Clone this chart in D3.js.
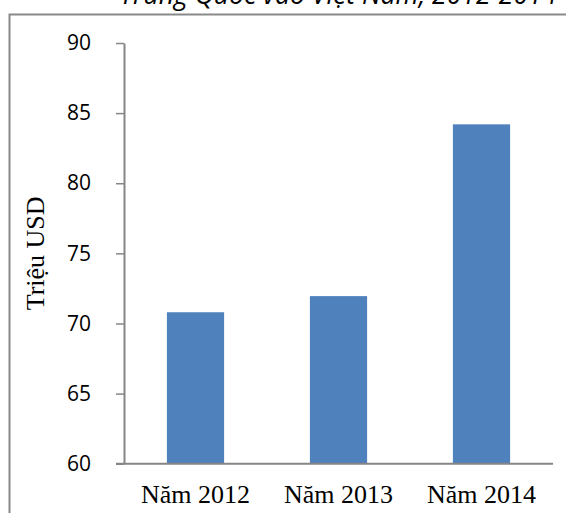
<!DOCTYPE html>
<html>
<head>
<meta charset="utf-8">
<script src="https://cdn.jsdelivr.net/npm/d3@7"></script>
<style>
  html, body { margin: 0; padding: 0; background: #fff; }
  svg { display: block; }
</style>
</head>
<body>
<svg id="chart" width="566" height="513"></svg>
<script>
// Vốn FDI (triệu USD) theo năm
const categories = ["Năm 2012", "Năm 2013", "Năm 2014"];
const values = [70.8, 71.95, 84.2];
const yTicks = [60, 65, 70, 75, 80, 85, 90];
const titleText = "Trung Quốc vào Việt Nam, 2012-2014";
const yAxisTitle = "Triệu USD";

const svg = d3.select("#chart");
const W = 566, H = 513;
const plot = { left: 124, right: 553, top: 43, bottom: 463.7 };

// chart frame
svg.append("rect")
  .attr("x", 9.5).attr("y", 14.5)
  .attr("width", W + 10).attr("height", H + 10)
  .attr("fill", "none")
  .attr("stroke", "#898989")
  .attr("stroke-width", 2);

// title (upper line runs past the top of the page)
svg.append("text")
  .attr("x", (plot.left + plot.right) / 2)
  .attr("y", 4)
  .attr("text-anchor", "middle")
  .attr("font-family", "'Open Sans', sans-serif")
  .attr("font-style", "italic")
  .attr("font-size", 26.5)
  .attr("fill", "#000")
  .text(titleText);

const x = d3.scaleBand()
  .domain(categories)
  .range([plot.left, plot.right])
  .paddingInner(0.6)
  .paddingOuter(0.3);

const y = d3.scaleLinear()
  .domain([60, 90])
  .range([plot.bottom, plot.top]);

// bars
svg.append("g").selectAll("rect")
  .data(values)
  .join("rect")
  .attr("x", (d, i) => x(categories[i]))
  .attr("y", d => y(d))
  .attr("width", x.bandwidth())
  .attr("height", d => y(60) - y(d))
  .attr("fill", "#4f81bd");

// y axis
const yAxis = svg.append("g")
  .attr("transform", `translate(${plot.left},0)`)
  .call(d3.axisLeft(y).tickValues(yTicks).tickSize(8).tickSizeOuter(0).tickPadding(25));
yAxis.select(".domain").attr("stroke", "#868686").attr("stroke-width", 2);
yAxis.selectAll(".tick line").attr("stroke", "#868686").attr("stroke-width", 1.5);
yAxis.selectAll(".tick text")
  .attr("font-family", "'Open Sans', sans-serif")
  .attr("font-size", 21)
  .attr("fill", "#000");

// x axis
const xAxis = svg.append("g")
  .attr("transform", `translate(0,${plot.bottom})`)
  .call(d3.axisBottom(x).tickSize(0).tickSizeOuter(0).tickPadding(21));
xAxis.select(".domain")
  .attr("d", `M${plot.left - 8},0H${plot.right}`)
  .attr("stroke", "#868686").attr("stroke-width", 2);
xAxis.selectAll(".tick text")
  .attr("font-family", "'Liberation Serif', 'Times New Roman', serif")
  .attr("font-size", 26)
  .attr("fill", "#000");

// y axis title
svg.append("text")
  .attr("transform", `translate(44,${(plot.top + plot.bottom) / 2}) rotate(-90)`)
  .attr("text-anchor", "middle")
  .attr("font-family", "'Liberation Serif', 'Times New Roman', serif")
  .attr("font-size", 26)
  .attr("fill", "#000")
  .text(yAxisTitle);
</script>
</body>
</html>
